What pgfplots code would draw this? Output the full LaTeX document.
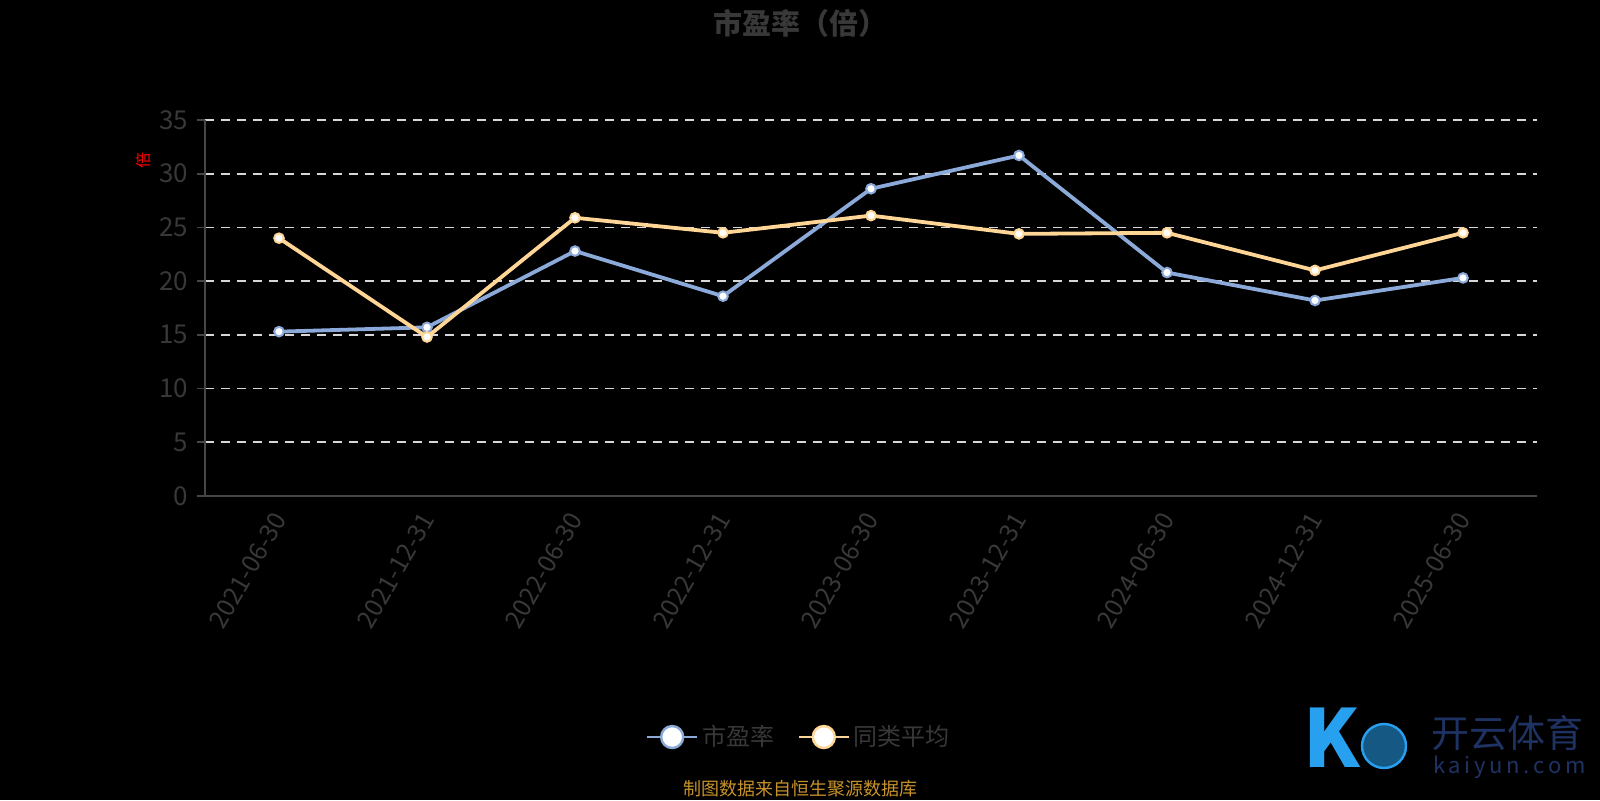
\documentclass[border=0pt]{standalone}
\usepackage{pgfplots}
\pgfplotsset{compat=1.18}
\usepackage{fontspec}
\setmainfont{Noto Sans CJK SC}
\definecolor{bluel}{RGB}{139,170,218}
\definecolor{orangel}{RGB}{255,214,150}
\definecolor{txt}{RGB}{56,56,56}
\definecolor{axc}{RGB}{70,70,70}
\definecolor{gridc}{RGB}{215,215,215}
\definecolor{foot}{RGB}{200,146,42}
\definecolor{navy}{RGB}{30,50,100}
\definecolor{logob}{RGB}{40,160,240}
\begin{document}
\begin{tikzpicture}[x=1pt,y=1pt]
\fill[black] (0,0) rectangle (800,400);
\useasboundingbox (0,0) rectangle (800,400);
\node[font=\bfseries\fontsize{14.5}{16}\selectfont, text=txt] at (400,388.5) {市盈率（倍）};
\node[font=\fontsize{8}{9}\selectfont, text=red, rotate=90] at (71.5,319.5) {倍};
\begin{axis}[
  at={(102.5pt,152pt)}, anchor=south west,
  scale only axis, width=666pt, height=188pt,
  xmin=-0.5, xmax=8.5, ymin=0, ymax=35,
  axis x line*=bottom, axis y line*=left,
  axis line style={-, color=axc, line width=0.8pt},
  xtick={0,...,8},
  xticklabels={2021-06-30,2021-12-31,2022-06-30,2022-12-31,2023-06-30,2023-12-31,2024-06-30,2024-12-31,2025-06-30},
  x tick label style={rotate=60, anchor=east, text=txt, font=\fontsize{12.5}{14}\selectfont, yshift=-3pt, xshift=-1pt},
  x tick style={draw=none},
  extra x ticks={-0.5,0.5,...,8.5},
  extra x tick labels={},
  extra x tick style={tick style={draw=axc, line width=0.8pt}, major tick length=4pt},
  ytick={0,5,...,35},
  y tick label style={text=txt, font=\fontsize{13}{15}\selectfont, xshift=-1pt},
  y tick style={draw=axc, line width=0.8pt},
  tick align=outside, major tick length=4pt,
  /pgf/number format/assume math mode=true,
  ymajorgrids,
  grid style={draw=gridc, dash pattern=on 4.5pt off 3.5pt, line width=0.8pt},
  legend columns=2,
  legend style={at={(0.4467,-0.641)}, anchor=center, draw=none, fill=none,
    text=txt, font=\fontsize{12}{14}\selectfont,
    /tikz/every even column/.append style={column sep=10pt}},
  legend cell align=left,
  legend image code/.code={
    \draw[#1, mark=none, line width=0.8pt] (0pt,0pt) -- (25pt,0pt);
    \draw[#1, fill=white, line width=1.2pt] (12.5pt,0pt) circle (5.5pt);
  },
  clip=false,
]
\addplot[color=bluel, line width=1.9pt, mark=*, mark size=2.4pt, mark options={fill=white, draw=bluel, line width=1pt}]
coordinates {(0,15.3) (1,15.7) (2,22.8) (3,18.6) (4,28.6) (5,31.7) (6,20.8) (7,18.2) (8,20.3)};
\addlegendentry{市盈率}
\addplot[color=orangel, line width=1.9pt, mark=*, mark size=2.4pt, mark options={fill=white, draw=orangel, line width=1pt}]
coordinates {(0,24.0) (1,14.8) (2,25.9) (3,24.5) (4,26.1) (5,24.4) (6,24.5) (7,21.0) (8,24.5)};
\addlegendentry{同类平均}
\end{axis}
\node[font=\fontsize{9}{11}\selectfont, text=foot] at (400,5.5) {制图数据来自恒生聚源数据库};
% watermark logo
\node[font=\bfseries\itshape\fontsize{40}{42}\selectfont, text=logob] at (666,31) {K};
\draw[logob, line width=1.2pt, fill=logob!55!black] (692,27) circle (11);
\node[font=\fontsize{19}{21}\selectfont, text=navy, anchor=west] at (712,33.5) {开云体育};
\node[font=\fontsize{11}{12}\selectfont, text=navy, anchor=west] at (713,16.5) {k\,a\,i\,y\,u\,n\,.\,c\,o\,m};
\end{tikzpicture}
\end{document}
